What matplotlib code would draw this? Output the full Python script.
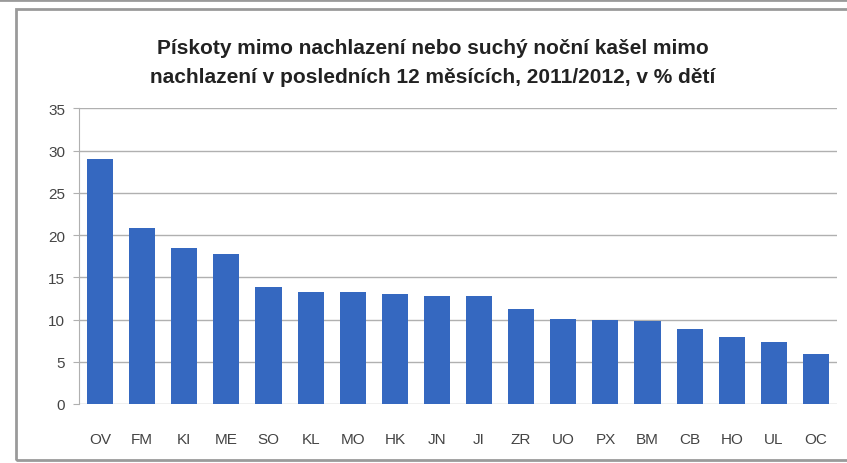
import matplotlib
matplotlib.use("Agg")
import matplotlib.pyplot as plt
from matplotlib.patches import Rectangle

kraje = ["OV", "FM", "KI", "ME", "SO", "KL", "MO", "HK", "JN",
         "JI", "ZR", "UO", "PX", "BM", "CB", "HO", "UL", "OC"]
hodnoty = [29.0, 20.8, 18.5, 17.8, 13.8, 13.3, 13.2, 13.0, 12.8,
           12.8, 11.2, 10.1, 10.0, 9.8, 8.9, 7.9, 7.3, 5.9]
y_ticks = [0, 5, 10, 15, 20, 25, 30, 35]
titulek = ("Pískoty mimo nachlazení nebo suchý noční kašel mimo\n"
           "nachlazení v posledních 12 měsících, 2011/2012, v % dětí")

BLUE = "#3568c0"
plt.rcParams["font.family"] = ["Liberation Sans", "DejaVu Sans"]

fig = plt.figure(figsize=(8.47, 4.64), dpi=100)
W, H = 847, 464
# rámeček grafu
fig.patches.append(Rectangle((16 / W, 3 / H), 1.0, (461 - 10) / H, transform=fig.transFigure,
                             fill=False, edgecolor="#9a9a9a", linewidth=2))
fig.add_artist(plt.Line2D([0, 1], [1 - 1 / H, 1 - 1 / H], transform=fig.transFigure,
                          color="#9a9a9a", linewidth=2))

ax = fig.add_axes([79 / W, 1 - 405 / H, (837 - 79) / W, (405 - 109.3) / H])
x = range(len(kraje))
ax.bar(x, hodnoty, width=0.62, color=BLUE, zorder=3)
ax.set_xlim(-0.5, len(kraje) - 0.5)
ax.set_ylim(0, 35)
ax.set_yticks(y_ticks)
ax.set_xticks(list(x))
ax.set_xticklabels(kraje)
ax.grid(axis="y", color="#b0b0b0", linewidth=1, zorder=0)
for s in ["top", "right", "bottom"]:
    ax.spines[s].set_visible(False)
ax.spines["left"].set_color("#b0b0b0")
ax.tick_params(axis="y", length=4, color="#b0b0b0", labelsize=11, labelcolor="#444444", pad=6)
ax.tick_params(axis="x", length=0, labelsize=11, labelcolor="#444444", pad=20)

fig.text(0.511, 1 - 63 / H, titulek, ha="center", va="center", fontsize=15,
         fontweight="bold", color="#222222", linespacing=1.65)

fig.savefig("out.png", dpi=100)
